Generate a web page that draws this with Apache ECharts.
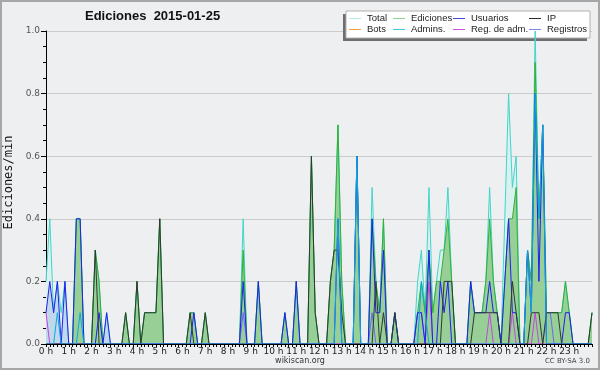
<!DOCTYPE html>
<html>
<head>
<meta charset="utf-8">
<script src="https://cdn.jsdelivr.net/npm/echarts@6/dist/echarts.min.js"></script>
<style>
  html, body { margin: 0; padding: 0; background: #eeeff1; }
  #chart { width: 600px; height: 370px; }
</style>
</head>
<body>
<div id="chart"></div>
<script>
// 10-minute bins, 0:00 .. 24:00 (145 points), values in edits/min
const HOUR_LABELS = ['0 h','1 h','2 h','3 h','4 h','5 h','6 h','7 h','8 h','9 h','10 h','11 h',
  '12 h','13 h','14 h','15 h','16 h','17 h','18 h','19 h','20 h','21 h','22 h','23 h']
const Y_TICKS = [0, 0.2, 0.4, 0.6, 0.8, 1.0]

const total = [
  0.2,0.4,0.1,0.2,0.1,0.2,  0,0,0.4,0.4,0,0,  0,0.3,0.2,0,0.1,0,  0,0,0,0.1,0,0,
  0.2,0,0.1,0.1,0.1,0.1,  0.4,0,0,0,0,0,  0,0,0.1,0.1,0,0,  0.1,0,0,0,0,0,
  0,0,0,0,0.4,0,  0,0,0.2,0,0,0,  0,0,0,0.1,0,0,  0.2,0,0,0,0.6,0.1,
  0,0,0,0.2,0.3,0.7,  0.2,0,0,0,0.6,0,  0,0,0.5,0.2,0.1,0.4,  0,0,0.1,0,0,0,
  0,0,0.2,0.3,0.1,0.5,  0.1,0.2,0.3,0.3,0.5,0.2,  0,0,0,0,0.2,0.1,  0.1,0.1,0.2,0.5,0.2,0.1,
  0,0.4,0.8,0.5,0.6,0,  0,0.3,0.2,1.0,0.4,0.7,  0.1,0.1,0.1,0.1,0.1,0.2,  0.1,0,0,0,0,0,
  0.1
]
const ediciones = [
  0,0,0,0,0,0,  0,0,0.4,0.4,0,0,  0,0.3,0.2,0,0,0,  0,0,0,0.1,0,0,
  0.2,0,0.1,0.1,0.1,0.1,  0.4,0,0,0,0,0,  0,0,0.1,0.1,0,0,  0.1,0,0,0,0,0,
  0,0,0,0,0.3,0,  0,0,0.2,0,0,0,  0,0,0,0.1,0,0,  0.2,0,0,0,0.6,0.1,
  0,0,0,0.2,0.3,0.7,  0.2,0,0,0,0.6,0,  0,0,0.4,0.2,0.1,0.4,  0,0,0.1,0,0,0,
  0,0,0.1,0.2,0.1,0.3,  0.1,0.2,0.2,0.3,0.4,0.2,  0,0,0,0,0.2,0.1,  0.1,0.1,0.2,0.4,0.2,0.1,
  0,0.2,0.4,0.4,0.5,0,  0,0.3,0.2,0.9,0.4,0.7,  0.1,0.1,0.1,0.1,0.1,0.2,  0.1,0,0,0,0,0,
  0.1
]
const usuarios = [
  0.1,0.2,0.1,0.2,0,0.2,  0,0,0.4,0.4,0,0,  0,0,0.1,0,0.1,0,  0,0,0,0,0,0,
  0,0,0,0,0,0,  0,0,0,0,0,0,  0,0,0,0.1,0,0,  0,0,0,0,0,0,
  0,0,0,0,0.2,0,  0,0,0.2,0,0,0,  0,0,0,0.1,0,0,  0.2,0,0,0,0,0,
  0,0,0,0,0,0.4,  0,0,0,0,0.6,0,  0,0,0.4,0.1,0.1,0.3,  0,0,0.1,0,0,0,
  0,0,0.1,0.1,0,0.3,  0,0,0.2,0.1,0.2,0,  0,0,0,0,0.2,0.1,  0.1,0.1,0.1,0.2,0.1,0.1,
  0,0.2,0.4,0.1,0.1,0,  0,0.3,0.1,0.8,0.2,0.7,  0,0,0,0,0,0.1,  0.1,0,0,0,0,0,
  0
]
const ip = [
  0,0,0,0,0,0,  0,0,0,0,0,0,  0,0.3,0,0,0,0,  0,0,0,0.1,0,0,
  0.2,0,0.1,0.1,0.1,0.1,  0.4,0,0,0,0,0,  0,0,0.1,0,0,0,  0.1,0,0,0,0,0,
  0,0,0,0,0,0,  0,0,0,0,0,0,  0,0,0,0,0,0,  0,0,0,0,0.6,0.1,
  0,0,0,0.2,0.3,0.3,  0.1,0,0,0,0,0,  0,0,0,0.2,0,0.1,  0,0,0.1,0,0,0,
  0,0,0,0,0,0,  0,0,0,0.2,0.2,0.2,  0,0,0,0,0,0.1,  0.1,0.1,0.1,0.1,0.1,0.1,
  0,0,0,0.2,0.1,0,  0,0,0.1,0.1,0.1,0,  0.1,0.1,0.1,0.1,0,0,  0,0,0,0,0,0,
  0.1
]
const bots = [
  0,0,0,0,0,0,  0,0,0,0,0,0,  0,0,0,0,0,0,  0,0,0,0,0,0,
  0,0,0,0,0,0,  0,0,0,0,0,0,  0,0,0,0,0,0,  0,0,0,0,0,0,
  0,0,0,0,0,0,  0,0,0,0,0,0,  0,0,0,0,0,0,  0,0,0,0,0,0,
  0,0,0,0,0,0,  0,0,0,0,0,0,  0,0,0,0,0,0,  0,0,0,0,0,0,
  0,0,0,0,0,0,  0,0,0,0,0,0,  0,0,0,0,0,0,  0,0,0,0,0,0,
  0,0,0,0,0,0,  0,0,0,0,0,0,  0,0,0,0,0,0,  0,0,0,0,0,0,
  0
]
const admins = [
  0,0,0,0.1,0,0,  0,0,0,0.1,0,0,  0,0,0,0,0,0,  0,0,0,0,0,0,
  0,0,0,0,0,0,  0,0,0,0,0,0,  0,0,0,0,0,0,  0,0,0,0,0,0,
  0,0,0,0,0,0,  0,0,0,0,0,0,  0,0,0,0,0,0,  0,0,0,0,0,0,
  0,0,0,0,0,0.4,  0,0,0,0,0.6,0,  0,0,0,0,0,0,  0,0,0,0,0,0,
  0,0,0,0.2,0.1,0,  0,0,0,0,0,0,  0,0,0,0,0,0,  0,0,0,0,0,0,
  0,0,0,0,0,0,  0,0.3,0.1,0.8,0.4,0.7,  0,0,0,0,0,0,  0,0,0,0,0,0,
  0
]
const regAdm = [
  0.1,0,0,0,0,0,  0,0,0,0,0,0,  0,0,0,0,0,0,  0,0,0,0,0,0,
  0,0,0,0,0,0,  0,0,0,0,0,0,  0,0,0,0,0,0,  0,0,0,0,0,0,
  0,0,0,0,0,0,  0,0,0,0,0,0,  0,0,0,0,0,0,  0,0,0,0,0,0,
  0,0,0,0,0,0,  0,0,0,0,0,0,  0,0,0,0,0,0,  0,0,0,0,0,0,
  0,0,0,0,0,0.2,  0,0,0,0,0,0,  0,0,0,0,0,0,  0,0,0,0.1,0,0,
  0,0,0,0.1,0,0,  0,0,0,0.1,0,0,  0,0,0,0,0,0,  0,0,0,0,0,0,
  0
]
const registros = [
  0,0,0,0,0,0,  0,0,0,0,0,0,  0,0,0,0,0,0,  0,0,0,0,0,0,
  0,0,0,0,0,0,  0,0,0,0,0,0,  0,0,0,0,0,0,  0,0,0,0,0,0,
  0,0,0,0,0.1,0,  0,0,0,0,0,0,  0,0,0,0,0,0,  0,0,0,0,0,0,
  0,0,0,0,0,0,  0,0,0,0,0,0,  0,0,0.1,0,0,0,  0,0,0,0,0,0,
  0,0,0.1,0.1,0,0,  0,0,0,0,0,0,  0,0,0,0,0,0,  0,0,0,0,0,0,
  0,0,0,0,0,0,  0,0,0,0,0,0,  0.1,0.1,0,0,0,0,  0,0,0,0,0,0,
  0
]

// swatch colours in the legend are paler than the drawn lines
const LEGEND_COLORS = {
  'Total': '#b2e9e9',
  'Ediciones': '#8fd28f',
  'Usuarios': '#4848e0',
  'IP': '#2a2a2a',
  'Bots': '#f2a040',
  'Admins.': '#48c8e0',
  'Reg. de adm.': '#d050e0',
  'Registros': '#8080f0'
}

const chart = echarts.init(document.getElementById('chart'))

// bin index -> hours on the x axis
const toPairs = arr => arr.map((v, i) => [i / 6, v])

const lineSeries = (name, data, color, extra) => Object.assign({
  name,
  type: 'line',
  data: toPairs(data),
  color,
  symbol: 'none',
  smooth: false,
  silent: true,
  lineStyle: { color, width: 1 },
  z: 3
}, extra || {})

const FONT = 'DejaVu Sans'

// layering: y axis + grid lines (1) < legend box (2) < series (3) < legend (4) < x axis (5)
const option = {
  animation: false,
  backgroundColor: '#eeeff1',
  grid: { left: 46, right: 8, top: 31, bottom: 26, outerBoundsMode: 'none', containLabel: false },
  xAxis: {
    type: 'value',
    min: 0,
    max: 24,
    interval: 1,
    z: 5,
    axisLine: { lineStyle: { color: '#000', width: 1 } },
    axisTick: { show: true, length: 3, lineStyle: { color: '#000' } },
    minorTick: { show: true, splitNumber: 6, length: 3, lineStyle: { color: '#000' } },
    axisLabel: {
      color: '#222',
      fontFamily: FONT,
      fontSize: 9,
      margin: 3,
      showMaxLabel: false,
      formatter: v => HOUR_LABELS[v] || ''
    },
    splitLine: { show: false }
  },
  yAxis: {
    type: 'value',
    min: Y_TICKS[0],
    max: Y_TICKS[Y_TICKS.length - 1],
    interval: 0.2,
    z: 1,
    name: 'Ediciones/min',
    nameLocation: 'middle',
    nameGap: 30,
    nameRotate: 90,
    nameTextStyle: { fontFamily: 'DejaVu Sans Mono', fontSize: 12, color: '#111', padding: [0, 0, 0, 10] },
    axisLine: { show: true, lineStyle: { color: '#000', width: 1 } },
    axisTick: { show: true, length: 5, lineStyle: { color: '#000' } },
    minorTick: { show: true, splitNumber: 4, length: 3, lineStyle: { color: '#000' } },
    axisLabel: {
      color: '#555',
      fontFamily: FONT,
      fontSize: 9,
      margin: 6,
      formatter: v => v.toFixed(1)
    },
    splitLine: { show: true, lineStyle: { color: '#cbcbcb', width: 1 } }
  },
  legend: [
    { names: ['Total', 'Bots'], left: 349 },
    { names: ['Ediciones', 'Admins.'], left: 393 },
    { names: ['Usuarios', 'Reg. de adm.'], left: 453 },
    { names: ['IP', 'Registros'], left: 529 }
  ].map(col => ({
    top: 13,
    left: col.left,
    orient: 'vertical',
    itemGap: 0,
    itemWidth: 12,
    itemHeight: 1,
    icon: 'rect',
    padding: 0,
    z: 4,
    selectedMode: false,
    textStyle: { fontFamily: 'Liberation Sans', fontSize: 9.5, color: '#222', lineHeight: 11, padding: [0, 0, 0, 1] },
    data: col.names.map(n => ({ name: n, itemStyle: { color: LEGEND_COLORS[n] } }))
  })),
  graphic: [
    // legend box with its shadow
    { type: 'rect', z: 2, shape: { x: 343, y: 14, width: 244, height: 27 }, style: { fill: '#6e6e6e' } },
    { type: 'rect', z: 2, shape: { x: 346, y: 11, width: 244, height: 27 }, style: { fill: '#fff', stroke: '#b0b0b0', lineWidth: 1 } },
    { type: 'text', left: 85, top: 10, style: { text: 'Ediciones  2015-01-25', font: 'bold 13px "Liberation Sans"', fill: '#111' } },
    { type: 'text', left: 'center', top: 357, style: { text: 'wikiscan.org', font: '8px "DejaVu Sans"', fill: '#333' } },
    { type: 'text', right: 10, top: 358, style: { text: 'CC BY-SA 3.0', font: '7px "DejaVu Sans"', fill: '#444' } },
    { type: 'rect', z: 10, shape: { x: 1, y: 1, width: 598, height: 368 }, style: { fill: 'none', stroke: '#a6a6a6', lineWidth: 2 } }
  ],
  series: [
    lineSeries('Total', total, '#3fd6c8', { areaStyle: { color: '#dbf1f0', opacity: 1 } }),
    // light fill under users where it peeks above the edits area
    lineSeries('Usuarios', usuarios, '#2a2af0', { lineStyle: { width: 0, opacity: 0 }, areaStyle: { color: '#bfd9ea', opacity: 1 } }),
    lineSeries('Ediciones', ediciones, '#33b033', { areaStyle: { color: '#97cf97', opacity: 1 } }),
    lineSeries('Bots', bots, '#f0a040'),
    lineSeries('Registros', registros, '#6a6af2'),
    lineSeries('Reg. de adm.', regAdm, '#c845e0'),
    lineSeries('Usuarios', usuarios, '#2020f0'),
    lineSeries('IP', ip, '#303a30'),
    lineSeries('Admins.', admins, '#10a6e2')
  ]
}

chart.setOption(option)
</script>
</body>
</html>
